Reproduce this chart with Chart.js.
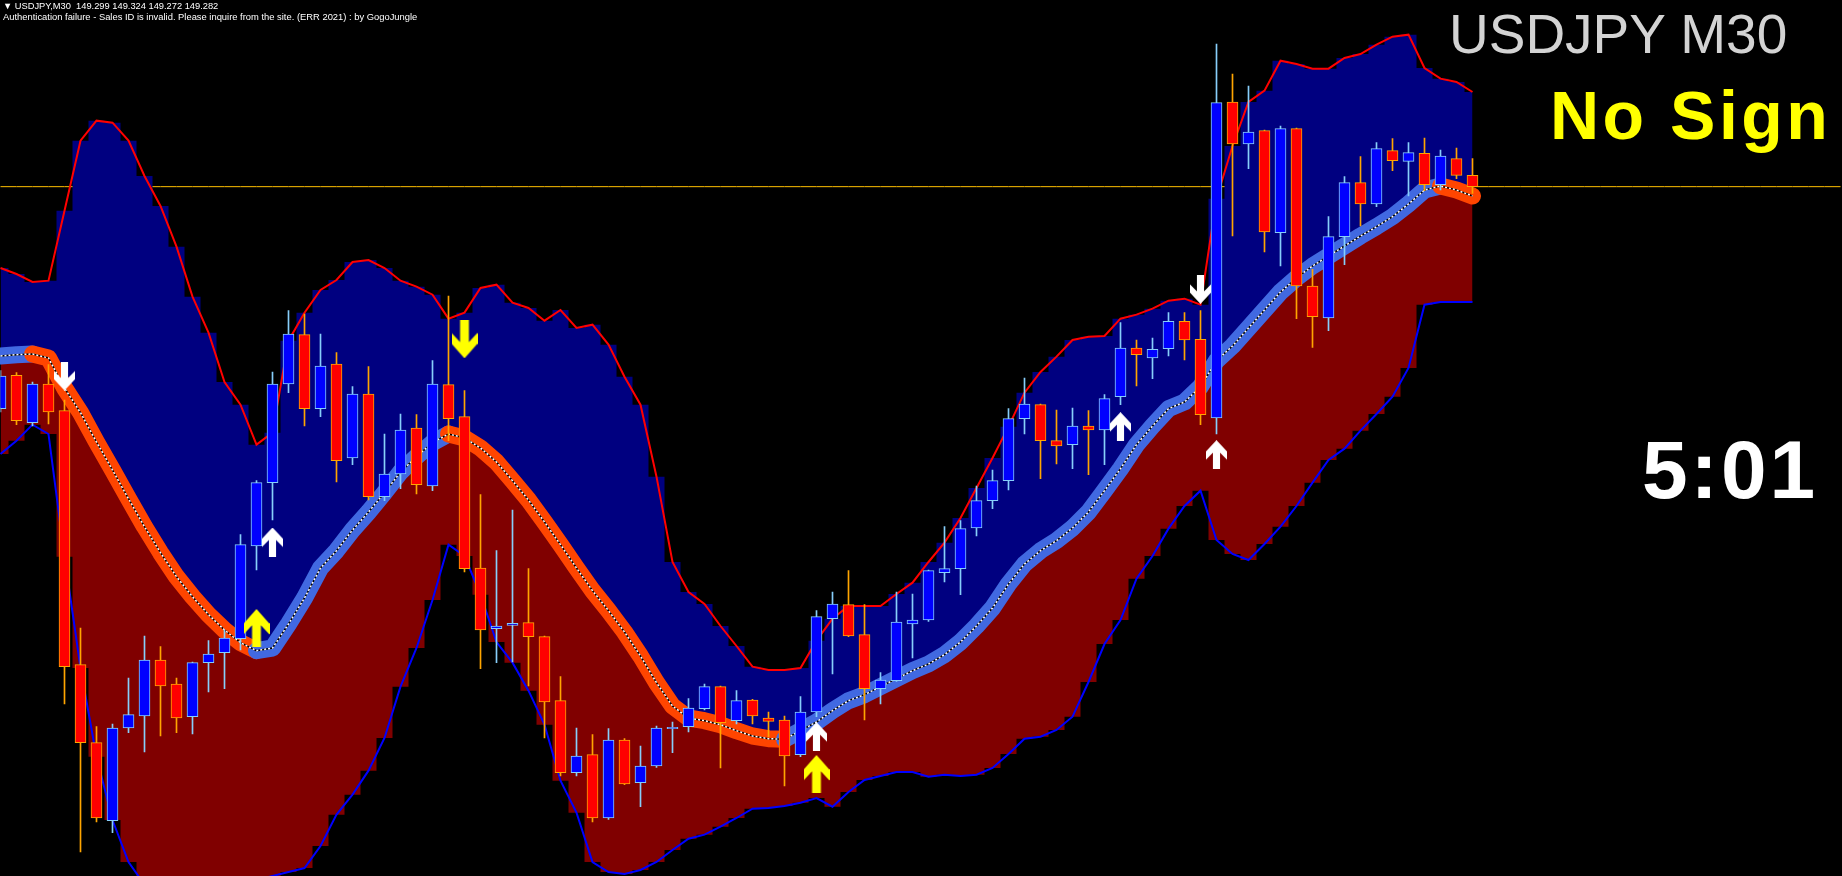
<!DOCTYPE html>
<html>
<head>
<meta charset="utf-8">
<title>USDJPY M30</title>
<script src="https://cdn.jsdelivr.net/npm/chart.js@4.4.1/dist/chart.umd.min.js"></script>
<style>
  html, body { margin: 0; padding: 0; background: #000; overflow: hidden; }
  #wrap { position: relative; width: 1842px; height: 876px; }
  #chart { display: block; }
  .txt { position: absolute; white-space: nowrap; line-height: 1; font-family: "Liberation Sans", Arial, sans-serif; }
  #info { left: 3px; top: 1.6px; font-size: 9.3px; color: #fff; }
  #auth { left: 3px; top: 12.2px; font-size: 9.4px; color: #fff; }
  #sym { left: 1449px; top: 6.7px; font-size: 55px; color: #d3d3d3; }
  #sign { left: 1550px; top: 80.7px; font-size: 68px; font-weight: bold; letter-spacing: 3.5px; color: #ffff00; }
  #timer { left: 1642px; top: 429px; font-size: 82px; font-weight: bold; letter-spacing: 3px; color: #fff; }
</style>
</head>
<body>
<div id="wrap">
  <canvas id="chart" width="1842" height="876"></canvas>
  <div class="txt" id="info">▼ USDJPY,M30&nbsp; 149.299 149.324 149.272 149.282</div>
  <div class="txt" id="auth">Authentication failure - Sales ID is invalid. Please inquire from the site. (ERR 2021) : by GogoJungle</div>
  <div class="txt" id="sym">USDJPY M30</div>
  <div class="txt" id="sign">No Sign</div>
  <div class="txt" id="timer">5:01</div>
</div>
<script>
// M30 candles, oldest first (93 bars on screen)
const open = [
  148.949, 148.999, 148.928, 148.986, 148.946, 148.565, 148.448, 148.331, 148.470, 148.488,
  148.572, 148.536, 148.487, 148.568, 148.583, 148.604, 148.743, 148.838, 148.986, 149.060,
  148.949, 149.016, 148.875, 148.971, 148.817, 148.851, 148.920, 148.833, 148.985, 148.937,
  148.710, 148.619, 148.624, 148.628, 148.607, 148.511, 148.403, 148.430, 148.335, 148.452,
  148.388, 148.413, 148.469, 148.472, 148.499, 148.532, 148.481, 148.512, 148.485, 148.482,
  148.430, 148.494, 148.634, 148.655, 148.610, 148.529, 148.541, 148.626, 148.632, 148.703,
  148.709, 148.770, 148.811, 148.841, 148.934, 148.955, 148.901, 148.895, 148.923, 148.917,
  148.967, 149.040, 149.025, 149.039, 149.080, 149.053, 148.935, 149.409, 149.346, 149.366,
  149.213, 149.369, 149.133, 149.085, 149.207, 149.288, 149.256, 149.336, 149.320, 149.332,
  149.285, 149.324, 149.299
];
const high = [
  149.006, 149.003, 148.989, 149.015, 148.962, 148.620, 148.472, 148.476, 148.545, 148.608,
  148.592, 148.545, 148.569, 148.601, 148.617, 148.760, 148.841, 149.004, 149.096, 149.091,
  149.061, 149.033, 148.982, 149.012, 148.911, 148.941, 148.940, 149.021, 149.118, 148.976,
  148.820, 148.736, 148.797, 148.709, 148.608, 148.547, 148.470, 148.460, 148.469, 148.454,
  148.443, 148.473, 148.479, 148.514, 148.536, 148.533, 148.526, 148.513, 148.494, 148.488,
  148.517, 148.646, 148.674, 148.706, 148.655, 148.553, 148.674, 148.671, 148.707, 148.772,
  148.781, 148.833, 148.857, 148.949, 148.995, 148.956, 148.947, 148.950, 148.946, 148.970,
  149.078, 149.052, 149.055, 149.093, 149.093, 149.096, 149.496, 149.451, 149.433, 149.367,
  149.373, 149.370, 149.158, 149.237, 149.297, 149.327, 149.348, 149.354, 149.348, 149.355,
  149.337, 149.340, 149.324
];
const low = [
  148.944, 148.925, 148.923, 148.926, 148.506, 148.284, 148.329, 148.313, 148.463, 148.434,
  148.458, 148.463, 148.461, 148.524, 148.529, 148.587, 148.707, 148.782, 148.973, 148.923,
  148.937, 148.839, 148.865, 148.812, 148.811, 148.829, 148.821, 148.826, 148.901, 148.704,
  148.559, 148.568, 148.569, 148.533, 148.455, 148.398, 148.398, 148.329, 148.333, 148.385,
  148.352, 148.411, 148.433, 148.464, 148.497, 148.410, 148.476, 148.476, 148.457, 148.383,
  148.427, 148.487, 148.551, 148.607, 148.482, 148.506, 148.540, 148.575, 148.630, 148.689,
  148.670, 148.758, 148.799, 148.827, 148.911, 148.844, 148.866, 148.859, 148.850, 148.865,
  148.955, 148.983, 148.994, 149.028, 149.022, 148.925, 148.911, 149.208, 149.309, 149.184,
  149.163, 149.084, 149.041, 149.066, 149.165, 149.223, 149.252, 149.306, 149.268, 149.276,
  149.277, 149.294, 149.272
];
const close = [
  148.998, 148.931, 148.986, 148.944, 148.562, 148.448, 148.335, 148.470, 148.490, 148.572,
  148.533, 148.485, 148.568, 148.581, 148.605, 148.745, 148.838, 148.986, 149.061, 148.949,
  149.013, 148.871, 148.971, 148.817, 148.851, 148.917, 148.835, 148.986, 148.934, 148.709,
  148.617, 148.623, 148.627, 148.607, 148.509, 148.403, 148.428, 148.335, 148.452, 148.386,
  148.413, 148.470, 148.471, 148.500, 148.532, 148.478, 148.511, 148.488, 148.480, 148.428,
  148.494, 148.637, 148.656, 148.608, 148.529, 148.542, 148.629, 148.632, 148.706, 148.709,
  148.769, 148.811, 148.841, 148.934, 148.956, 148.901, 148.893, 148.923, 148.917, 148.964,
  149.040, 149.030, 149.038, 149.080, 149.052, 148.940, 149.408, 149.346, 149.364, 149.214,
  149.369, 149.133, 149.087, 149.207, 149.288, 149.256, 149.339, 149.321, 149.333, 149.285,
  149.328, 149.299, 149.282
];

// band indicator
const upperBand = [
  149.160, 149.151, 149.139, 149.141, 149.246, 149.351, 149.381, 149.378, 149.351, 149.298,
  149.253, 149.192, 149.117, 149.063, 148.989, 148.955, 148.895, 148.913, 149.051, 149.093,
  149.127, 149.142, 149.169, 149.172, 149.160, 149.141, 149.132, 149.120, 149.084, 149.093,
  149.130, 149.135, 149.108, 149.100, 149.081, 149.097, 149.070, 149.075, 149.045, 148.997,
  148.955, 148.847, 148.719, 148.674, 148.656, 148.623, 148.593, 148.562, 148.557, 148.557,
  148.560, 148.601, 148.634, 148.653, 148.653, 148.653, 148.671, 148.688, 148.719, 148.748,
  148.785, 148.830, 148.875, 148.922, 148.973, 149.004, 149.027, 149.052, 149.057, 149.058,
  149.084, 149.090, 149.099, 149.111, 149.114, 149.105, 149.264, 149.343, 149.409, 149.426,
  149.471, 149.466, 149.459, 149.459, 149.475, 149.481, 149.495, 149.507, 149.510, 149.460,
  149.444, 149.439, 149.424
];
const middleLine = [
  149.028, 149.030, 149.031, 149.025, 148.980, 148.943, 148.899, 148.857, 148.814, 148.772,
  148.733, 148.697, 148.667, 148.640, 148.617, 148.598, 148.586, 148.590, 148.626, 148.665,
  148.710, 148.736, 148.767, 148.794, 148.823, 148.854, 148.877, 148.898, 148.911, 148.905,
  148.890, 148.869, 148.841, 148.812, 148.779, 148.745, 148.710, 148.676, 148.646, 148.614,
  148.578, 148.538, 148.503, 148.485, 148.481, 148.475, 148.466, 148.458, 148.454, 148.453,
  148.466, 148.479, 148.496, 148.511, 148.520, 148.532, 148.544, 148.556, 148.566, 148.580,
  148.599, 148.623, 148.650, 148.686, 148.716, 148.736, 148.751, 148.770, 148.794, 148.826,
  148.859, 148.895, 148.923, 148.949, 148.959, 148.982, 149.021, 149.043, 149.070, 149.097,
  149.124, 149.145, 149.163, 149.178, 149.193, 149.208, 149.222, 149.237, 149.256, 149.277,
  149.283, 149.277, 149.268
];
const lowerBand = [
  148.881, 148.901, 148.925, 148.911, 148.727, 148.560, 148.427, 148.332, 148.269, 148.235,
  148.220, 148.212, 148.212, 148.215, 148.223, 148.235, 148.242, 148.248, 148.254, 148.260,
  148.293, 148.340, 148.370, 148.406, 148.455, 148.532, 148.590, 148.662, 148.745, 148.728,
  148.670, 148.599, 148.568, 148.526, 148.475, 148.391, 148.343, 148.269, 148.254, 148.251,
  148.257, 148.269, 148.287, 148.304, 148.310, 148.322, 148.335, 148.349, 148.350, 148.353,
  148.358, 148.365, 148.352, 148.374, 148.392, 148.398, 148.404, 148.404, 148.397, 148.400,
  148.398, 148.400, 148.410, 148.431, 148.454, 148.457, 148.467, 148.487, 148.539, 148.596,
  148.632, 148.694, 148.728, 148.769, 148.803, 148.826, 148.752, 148.731, 148.722, 148.746,
  148.772, 148.803, 148.838, 148.872, 148.889, 148.916, 148.941, 148.967, 149.010, 149.105,
  149.109, 149.109, 149.109
];

// signal arrows: [bar, price]
const whiteUp = [[17, 148.749], [51, 148.457], [70, 148.922], [76, 148.880]];
const whiteDown = [[4, 148.998], [75, 149.128]];
const yellowUp = [[16, 148.620], [51, 148.401]];
const yellowDown = [[29, 149.053]];

const lastClose = 149.282;
const shiftBars = 23; // empty space right of the last bar
const priceMin = 148.248;
const priceMax = 149.562;

const bars = Array.from({ length: close.length + shiftBars }, (_, i) => i);

const toSeries = list => {
  const s = bars.map(() => null);
  list.forEach(([i, v]) => { s[i] = v; });
  return s;
};

function arrowImage(w, h, color, down) {
  const c = document.createElement('canvas');
  c.width = w;
  c.height = h;
  const g = c.getContext('2d');
  const shape = [[0, 0], [0.5, 0.39], [0.5, 0.67], [0.17, 0.43], [0.17, 1],
                 [-0.17, 1], [-0.17, 0.43], [-0.5, 0.67], [-0.5, 0.39]];
  g.beginPath();
  shape.forEach(([px, py], i) => {
    const x = w / 2 + px * w;
    const y = down ? h - py * h : py * h;
    if (i) g.lineTo(x, y); else g.moveTo(x, y);
  });
  g.closePath();
  g.fillStyle = color;
  g.fill();
  return c;
}

const bull = close.map((c, i) => c >= open[i]);

const arrowSet = (list, img) => ({
  type: 'line',
  data: toSeries(list),
  showLine: false,
  pointStyle: img,
  pointRadius: 10,
  order: 0
});

const ctx = document.getElementById('chart').getContext('2d');

new Chart(ctx, {
  type: 'bar',
  data: {
    labels: bars,
    datasets: [
      {
        type: 'line',
        data: bars.map(() => lastClose),
        borderColor: '#ffbf00',
        borderWidth: 1,
        pointRadius: 0,
        order: 20
      },
      {
        type: 'line',
        data: middleLine,
        stepped: 'middle',
        borderColor: 'rgba(0,0,0,0)',
        pointRadius: 0,
        fill: false,
        order: 19
      },
      {
        type: 'line',
        data: upperBand,
        stepped: 'middle',
        borderColor: 'rgba(0,0,0,0)',
        backgroundColor: '#000080',
        pointRadius: 0,
        fill: 1,
        order: 18
      },
      {
        type: 'line',
        data: lowerBand,
        stepped: 'middle',
        borderColor: 'rgba(0,0,0,0)',
        backgroundColor: '#800000',
        pointRadius: 0,
        fill: 1,
        order: 17
      },
      {
        type: 'line',
        data: upperBand,
        borderColor: '#ff0000',
        borderWidth: 2,
        pointRadius: 0,
        order: 16
      },
      {
        type: 'line',
        data: lowerBand,
        borderColor: '#0000ff',
        borderWidth: 2,
        pointRadius: 0,
        order: 15
      },
      {
        type: 'line',
        data: middleLine,
        borderWidth: 17,
        borderColor: '#4169e1',
        borderCapStyle: 'round',
        borderJoinStyle: 'round',
        segment: {
          borderColor: c => c.p1.parsed.y >= c.p0.parsed.y ? '#4169e1' : '#ff4500'
        },
        pointRadius: 0,
        order: 14
      },
      {
        type: 'line',
        data: middleLine,
        borderColor: '#000',
        borderWidth: 1.5,
        pointRadius: 0,
        order: 13
      },
      {
        type: 'line',
        data: middleLine,
        borderColor: '#fff',
        borderWidth: 1.5,
        borderDash: [2, 2],
        pointRadius: 0,
        order: 12
      },
      {
        label: 'wick',
        data: low.map((l, i) => [l, high[i]]),
        backgroundColor: bull.map(b => b ? '#87cefa' : '#ffa500'),
        barThickness: 1,
        grouped: false,
        order: 11
      },
      {
        label: 'body',
        data: open.map((o, i) => [o, close[i]]),
        backgroundColor: bull.map(b => b ? '#0000ff' : '#ff0000'),
        borderColor: bull.map(b => b ? '#87cefa' : '#ffa500'),
        borderWidth: 1,
        borderSkipped: false,
        barThickness: 11,
        grouped: false,
        order: 10
      },
      arrowSet(whiteUp, arrowImage(21, 29, '#ffffff', false)),
      arrowSet(whiteDown, arrowImage(21, 29, '#ffffff', true)),
      arrowSet(yellowUp, arrowImage(26, 38, '#ffff00', false)),
      arrowSet(yellowDown, arrowImage(26, 38, '#ffff00', true))
    ]
  },
  options: {
    responsive: false,
    animation: false,
    events: [],
    layout: { autoPadding: false, padding: { left: 0.5, right: 1.5, top: 0, bottom: 0 } },
    plugins: {
      legend: { display: false },
      tooltip: { enabled: false }
    },
    scales: {
      x: { display: false, offset: false },
      y: { display: false, min: priceMin, max: priceMax }
    }
  }
});
</script>
</body>
</html>
